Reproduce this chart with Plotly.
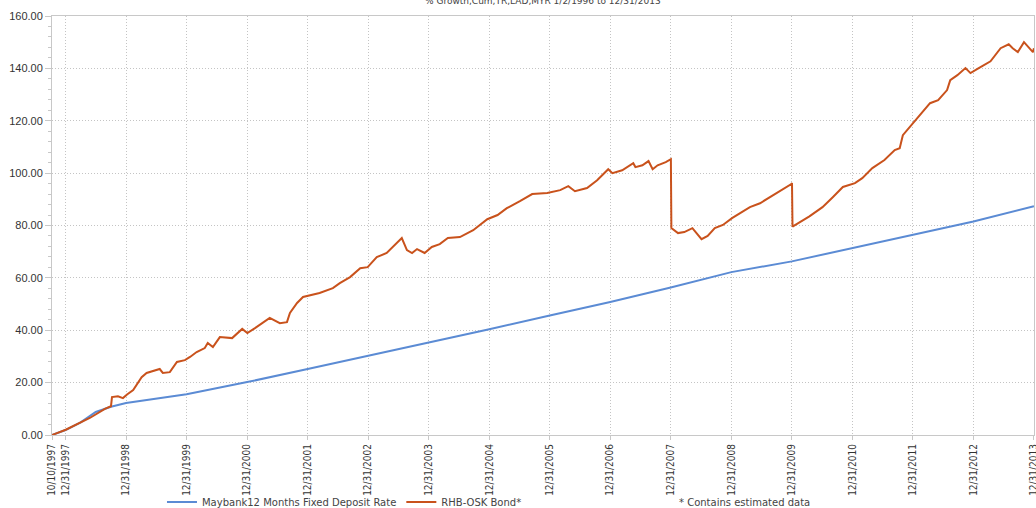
import plotly.graph_objects as go

# ---- data ----
maybank_dates = ["1997-10-10", "1997-12-31", "1998-04-01", "1998-07-01", "1998-10-01",
                 "1998-12-31", "1999-12-31", "2000-12-31", "2001-12-31", "2002-12-31",
                 "2003-12-31", "2004-12-31", "2005-12-31", "2006-12-31", "2007-12-31",
                 "2008-12-31", "2009-12-31", "2010-12-31", "2011-12-31", "2012-12-31",
                 "2013-12-31"]
maybank_values = [0.0, 1.9, 4.8, 8.8, 10.8,
                  12.2, 15.6, 20.2, 25.2, 30.2,
                  35.3, 40.4, 45.6, 50.8, 56.3,
                  62.2, 66.3, 71.3, 76.2, 81.5,
                  87.4]

rhb_dates = ["1997-10-10", "1998-01-01", "1998-05-26", "1998-08-25", "1998-10-01",
             "1998-10-07", "1998-11-12", "1998-12-12", "1999-01-06", "1999-02-12",
             "1999-04-04", "1999-05-04", "1999-07-22", "1999-08-10", "1999-09-21",
             "1999-11-03", "1999-12-21", "2000-01-21", "2000-03-01", "2000-04-19",
             "2000-05-07", "2000-06-07", "2000-07-19", "2000-10-01", "2000-12-01",
             "2001-01-01", "2001-02-16", "2001-05-16", "2001-07-16", "2001-08-28",
             "2001-09-15", "2001-10-28", "2001-12-03", "2002-01-13", "2002-03-13",
             "2002-06-01", "2002-07-13", "2002-09-13", "2002-11-13", "2002-12-28",
             "2003-02-21", "2003-04-22", "2003-06-10", "2003-07-22", "2003-08-22",
             "2003-09-22", "2003-10-22", "2003-12-07", "2004-01-19", "2004-03-07",
             "2004-04-25", "2004-07-07", "2004-09-25", "2004-12-19", "2005-02-19",
             "2005-04-16", "2005-07-04", "2005-09-16", "2005-12-16", "2006-03-04",
             "2006-04-22", "2006-06-01", "2006-08-13", "2006-10-13", "2006-12-19",
             "2007-01-13", "2007-03-13", "2007-04-13", "2007-05-19", "2007-06-01",
             "2007-07-13", "2007-08-19", "2007-09-13", "2007-10-13", "2007-12-01",
             "2008-01-01", "2008-01-04", "2008-02-13", "2008-03-22", "2008-05-10",
             "2008-06-04", "2008-07-04", "2008-08-10", "2008-09-22", "2008-11-10",
             "2009-01-04", "2009-02-22", "2009-04-22", "2009-06-22", "2009-08-22",
             "2009-10-22", "2009-12-28", "2010-01-01", "2010-01-04", "2010-04-16",
             "2010-07-04", "2010-09-04", "2010-11-04", "2011-01-16", "2011-03-01",
             "2011-05-01", "2011-07-13", "2011-09-13", "2011-10-13", "2011-11-01",
             "2012-01-01", "2012-02-25", "2012-04-13", "2012-06-01", "2012-07-25",
             "2012-08-13", "2012-09-25", "2012-11-13", "2012-12-13", "2013-02-01",
             "2013-04-13", "2013-06-13", "2013-08-01", "2013-08-25", "2013-09-25",
             "2013-11-01", "2013-12-01", "2013-12-25", "2013-12-31"]
rhb_values = [0.0, 2.0, 6.5, 10.0, 11.0,
              14.5, 14.8, 14.1, 15.5, 17.2,
              22.1, 23.7, 25.2, 23.7, 24.0,
              27.9, 28.6, 29.8, 31.7, 33.2,
              35.1, 33.6, 37.4, 37.0, 40.5,
              38.9, 40.8, 44.7, 42.7, 43.1,
              46.6, 50.4, 52.7, 53.4, 54.2,
              56.1, 58.0, 60.3, 63.7, 64.1,
              67.9, 69.5, 72.5, 75.2, 70.6,
              69.5, 71.0, 69.5, 71.8, 72.9,
              75.2, 75.6, 78.2, 82.4, 84.0,
              86.6, 89.3, 92.0, 92.4, 93.5,
              95.0, 93.1, 94.3, 97.3, 101.5,
              100.0, 101.1, 102.3, 103.8, 102.3,
              103.0, 104.6, 101.5, 103.0, 104.2,
              105.3, 79.0, 77.1, 77.5, 79.0,
              77.1, 74.8, 76.0, 79.0, 80.2,
              82.8, 84.7, 87.0, 88.5, 90.8,
              93.1, 95.8, 96.2, 79.6, 83.5,
              87.0, 90.8, 94.7, 96.2, 98.1,
              101.9, 105.0, 108.8, 109.5, 114.5,
              119.0, 123.3, 126.7, 127.9, 131.7,
              135.5, 137.4, 140.1, 138.2, 140.1,
              142.7, 147.7, 149.2, 147.7, 146.2,
              150.0, 148.1, 146.2, 147.7]

x_tick_vals = ["1997-10-10", "1997-12-31", "1998-12-31", "1999-12-31", "2000-12-31",
               "2001-12-31", "2002-12-31", "2003-12-31", "2004-12-31", "2005-12-31",
               "2006-12-31", "2007-12-31", "2008-12-31", "2009-12-31", "2010-12-31",
               "2011-12-31", "2012-12-31", "2013-12-31"]
x_tick_text = ["10/10/1997", "12/31/1997", "12/31/1998", "12/31/1999", "12/31/2000",
               "12/31/2001", "12/31/2002", "12/31/2003", "12/31/2004", "12/31/2005",
               "12/31/2006", "12/31/2007", "12/31/2008", "12/31/2009", "12/31/2010",
               "12/31/2011", "12/31/2012", "12/31/2013"]
y_tick_vals = [0, 20, 40, 60, 80, 100, 120, 140, 160]
y_tick_text = ["0.00", "20.00", "40.00", "60.00", "80.00", "100.00", "120.00", "140.00", "160.00"]

title_text = "% Growth,Cum,TR,LAD,MYR 1/2/1996 to 12/31/2013"
series_names = ["Maybank12 Months Fixed Deposit Rate", "RHB-OSK Bond*"]
note_text = "* Contains estimated data"

BLUE = "#5B8BD4"
ORANGE = "#C9521C"

fig = go.Figure()
fig.add_trace(go.Scatter(x=maybank_dates, y=maybank_values, mode="lines",
                         name=series_names[0], line=dict(color=BLUE, width=2)))
fig.add_trace(go.Scatter(x=rhb_dates, y=rhb_values, mode="lines",
                         name=series_names[1], line=dict(color=ORANGE, width=2)))

axis_line = "#C8C8C8"
grid = "#C4C4C4"

fig.update_layout(
    width=1036, height=508,
    margin=dict(l=52, r=2, t=16, b=73, autoexpand=False),
    paper_bgcolor="white", plot_bgcolor="white",
    font=dict(family="Liberation Sans, Arial, sans-serif", color="#333333", size=11),
    showlegend=True,
    legend=dict(orientation="h", x=0.112, xanchor="left", y=-0.16, yanchor="middle",
                font=dict(family="DejaVu Sans", size=10, color="#444444"),
                itemwidth=30, bgcolor="rgba(0,0,0,0)", tracegroupgap=0),
    xaxis=dict(type="date", range=["1997-10-10", "2013-12-31 12:00"], automargin=False,
               tickmode="array", tickvals=x_tick_vals, ticktext=x_tick_text,
               tickangle=-90, tickfont=dict(size=10, family="DejaVu Sans Condensed, DejaVu Sans"),
               ticklabeloverflow="allow",
               showgrid=True, gridcolor=grid, griddash="1px,2px", gridwidth=1,
               showline=True, linecolor=axis_line, linewidth=1, mirror=True,
               ticks="outside", ticklen=4, tickcolor=axis_line, zeroline=False),
    yaxis=dict(range=[0, 160], tickmode="array", tickvals=y_tick_vals, ticktext=y_tick_text,
               tickfont=dict(size=11), automargin=False,
               showgrid=True, gridcolor=grid, griddash="1px,2px", gridwidth=1,
               showline=True, linecolor=axis_line, linewidth=1, mirror=True,
               ticks="outside", ticklen=6, tickcolor=axis_line, zeroline=False,
               minor=dict(dtick=4, ticks="outside", ticklen=3, tickcolor=axis_line, showgrid=False)),
    annotations=[
        dict(text=title_text, xref="paper", yref="paper", x=0.5, y=1.036, xanchor="center",
             yanchor="middle", showarrow=False,
             font=dict(family="DejaVu Sans", size=9, color="#444444")),
        dict(text=note_text, xref="paper", yref="paper", x=0.636, y=-0.16, xanchor="left",
             yanchor="middle", showarrow=False,
             font=dict(family="DejaVu Sans", size=10, color="#444444")),
    ],
)

fig.write_html("out.html", config={"displayModeBar": False},
               post_script="document.body.style.margin='0';document.body.style.overflow='hidden';")
